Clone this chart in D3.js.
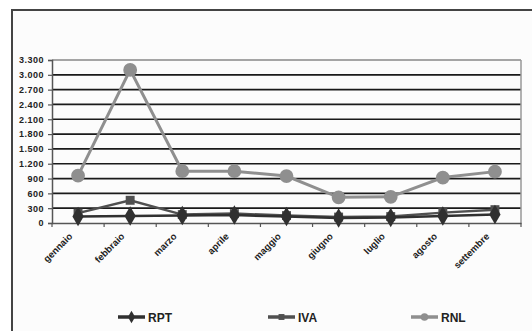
<!DOCTYPE html>
<html><head><meta charset="utf-8">
<script src="https://cdn.jsdelivr.net/npm/d3@7"></script>
<style>body{margin:0;background:#fff}svg{display:block}</style>
</head><body>
<svg id="c" width="532" height="331"></svg>
<script>
const categories = ["gennaio","febbraio","marzo","aprile","maggio","giugno","luglio","agosto","settembre"];
const rpt = [130, 140, 150, 160, 130, 100, 110, 140, 170];
const iva = [200, 460, 170, 190, 150, 120, 130, 210, 270];
const rnl = [960, 3100, 1050, 1050, 950, 520, 530, 920, 1040];
const yTicks = [0,300,600,900,1200,1500,1800,2100,2400,2700,3000,3300];
const seriesNames = ["RPT","IVA","RNL"];

const svg = d3.select("#c");
const font = "'Liberation Sans', Arial, sans-serif";
// outer frame
svg.append("rect").attr("x",12).attr("y",10).attr("width",530).attr("height",340)
  .attr("fill","#fcfcfc").attr("stroke","#444").attr("stroke-width",2);

const L=52, R=521, T=60, B=223;
const x = d3.scaleBand().domain(categories).range([L,R]);
const y = d3.scaleLinear().domain([0,3300]).range([B,T]);

// gridlines
svg.append("g").selectAll("line").data(yTicks.filter(d=>d>0)).join("line")
  .attr("x1",L).attr("x2",R).attr("y1",d=>y(d)).attr("y2",d=>y(d))
  .attr("stroke",d=>d===3300?"#888":"#1a1a1a").attr("stroke-width",1.7);
// right plot border
svg.append("line").attr("x1",R).attr("x2",R).attr("y1",T).attr("y2",B).attr("stroke","#999").attr("stroke-width",1.5);

// y axis
const ya = d3.axisLeft(y).tickValues(yTicks).tickSize(4).tickPadding(4)
  .tickFormat(d=>d3.format(",")(d).replace(/,/g,"."));
const gy = svg.append("g").attr("transform",`translate(${L},0)`).call(ya);
gy.select(".domain").attr("stroke","#555").attr("stroke-width",1.5);
gy.selectAll(".tick line").attr("stroke","#555").attr("stroke-width",1.2);
gy.selectAll("text").attr("font-family",font).attr("font-weight","bold").attr("font-size",9)
  .attr("letter-spacing",0.5).attr("fill","#222");

// x axis
const xa = d3.axisBottom(x).tickSize(0).tickPadding(0);
const gx = svg.append("g").attr("transform",`translate(0,${B})`).call(xa);
gx.select(".domain").attr("stroke","#555").attr("stroke-width",1.5);
// ticks between categories
svg.append("g").selectAll("line").data(d3.range(categories.length+1)).join("line")
  .attr("x1",i=>L+i*x.step()).attr("x2",i=>L+i*x.step()).attr("y1",B).attr("y2",B+4)
  .attr("stroke","#555").attr("stroke-width",1.2);
gx.selectAll(".tick text")
  .attr("font-family",font).attr("font-weight","bold").attr("font-size",9.5).attr("fill","#222")
  .attr("text-anchor","end").attr("dy",0)
  .attr("transform","translate(-5,14) rotate(-45)");

const series = [
  {name:"RNL", data:rnl, color:"#8f8f8f", lw:3, shape:d3.symbolCircle, size:150},
  {name:"IVA", data:iva, color:"#505050", lw:2.5, shape:d3.symbolSquare, size:80},
  {name:"RPT", data:rpt, color:"#303030", lw:2.5, shape:d3.symbolDiamond, size:110},
];
const line = d3.line().x((d,i)=>x(categories[i])+x.bandwidth()/2).y(d=>y(d));
series.forEach(s=>{
  svg.append("path").datum(s.data).attr("d",line).attr("fill","none")
    .attr("stroke",s.color).attr("stroke-width",s.lw);
  svg.append("g").selectAll("path").data(s.data).join("path")
    .attr("d",d3.symbol().type(s.shape).size(s.size))
    .attr("transform",(d,i)=>`translate(${x(categories[i])+x.bandwidth()/2},${y(d)})`)
    .attr("fill",s.color);
});

// legend
const legend = [
  {name:"RPT", color:"#303030", shape:d3.symbolDiamond, size:45, x:118},
  {name:"IVA", color:"#505050", shape:d3.symbolSquare, size:35, x:268},
  {name:"RNL", color:"#8f8f8f", shape:d3.symbolCircle, size:45, x:411},
];
const ly = 317;
legend.forEach(l=>{
  svg.append("line").attr("x1",l.x).attr("x2",l.x+27).attr("y1",ly).attr("y2",ly)
    .attr("stroke",l.color).attr("stroke-width",3.5);
  svg.append("path").attr("d",d3.symbol().type(l.shape).size(l.size)())
    .attr("transform",`translate(${l.x+13.5},${ly})`).attr("fill",l.color);
  svg.append("text").attr("x",l.x+30).attr("y",ly+4.5).text(l.name)
    .attr("font-family",font).attr("font-weight","bold").attr("font-size",12).attr("fill","#222");
});
</script>
</body></html>
